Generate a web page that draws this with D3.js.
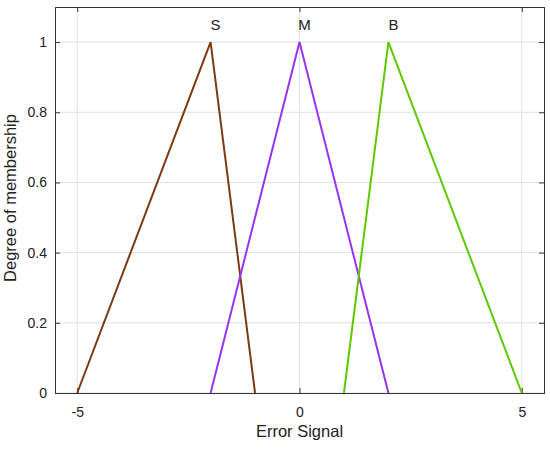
<!DOCTYPE html>
<html>
<head>
<meta charset="utf-8">
<script src="https://cdn.jsdelivr.net/npm/d3@7"></script>
<style>
  body { margin: 0; background: #fff; }
  text { font-family: "Liberation Sans", Arial, sans-serif; fill: #222; }
</style>
</head>
<body>
<div id="chart"></div>
<script>
// membership functions (triangles): x points and y points
const names = ["S", "M", "B"];
const xPoints = [[-5, -2, -1], [-2, 0, 2], [1, 2, 5]];
const yPoints = [[0, 1, 0], [0, 1, 0], [0, 1, 0]];
const colors = ["#7b3a12", "#9933ee", "#5fc800"];
const xTicks = [-5, 0, 5];
const yTicks = [0, 0.2, 0.4, 0.6, 0.8, 1];

let margin = {top: 7, right: 6, bottom: 56, left: 55},
    width = 550 - margin.left - margin.right,
    height = 449 - margin.top - margin.bottom;

let svg = d3.select("#chart")
  .append("svg")
    .attr("width", 550)
    .attr("height", 449)
  .append("g")
    .attr("transform", `translate(${margin.left}, ${margin.top})`);

const x = d3.scaleLinear().domain([-5.5, 5.5]).range([0, width]);
const y = d3.scaleLinear().domain([0, 1.1]).range([height, 0]);

// grid
svg.append("g").selectAll("line.gx").data(xTicks).join("line")
  .attr("x1", d => x(d)).attr("x2", d => x(d))
  .attr("y1", 0).attr("y2", height)
  .attr("stroke", "#e0e0e0");
svg.append("g").selectAll("line.gy").data(yTicks).join("line")
  .attr("x1", 0).attr("x2", width)
  .attr("y1", d => y(d)).attr("y2", d => y(d))
  .attr("stroke", "#e0e0e0");

// axes
svg.append("g")
  .attr("transform", `translate(0, ${height})`)
  .call(d3.axisBottom(x).tickValues(xTicks).tickSize(-5).tickPadding(14).tickFormat(d => String(d)));
svg.append("g")
  .call(d3.axisLeft(y).tickValues(yTicks).tickSize(-5).tickPadding(8).tickFormat(d => String(d)));
svg.append("g")
  .call(d3.axisTop(x).tickValues(xTicks).tickSize(-5).tickFormat(""));
svg.append("g")
  .attr("transform", `translate(${width}, 0)`)
  .call(d3.axisRight(y).tickValues(yTicks).tickSize(-5).tickFormat(""));

svg.selectAll(".domain").attr("stroke", "#333");
svg.selectAll(".tick line").attr("stroke", "#333");
svg.selectAll(".tick text").style("font-size", "14px").attr("fill", "#222");

// lines
const line = d3.line().x(d => x(d[0])).y(d => y(d[1]));
names.forEach((n, i) => {
  const pts = xPoints[i].map((v, j) => [v, yPoints[i][j]]);
  svg.append("path")
    .datum(pts)
    .attr("fill", "none")
    .attr("stroke", colors[i])
    .attr("stroke-width", 2)
    .attr("d", line);
  svg.append("text")
    .attr("x", x(xPoints[i][1]) + 5)
    .attr("y", y(1) - 12)
    .attr("text-anchor", "middle")
    .style("font-size", "15px")
    .text(n);
});

// axis labels
svg.append("text")
  .attr("text-anchor", "middle")
  .attr("x", x(0))
  .attr("y", height + 44)
  .style("font-size", "16.5px")
  .text("Error Signal");

svg.append("text")
  .attr("text-anchor", "middle")
  .attr("transform", `translate(${-39}, ${height / 2 - 2}) rotate(-90)`)
  .style("font-size", "16.5px")
  .text("Degree of membership");
</script>
</body>
</html>
